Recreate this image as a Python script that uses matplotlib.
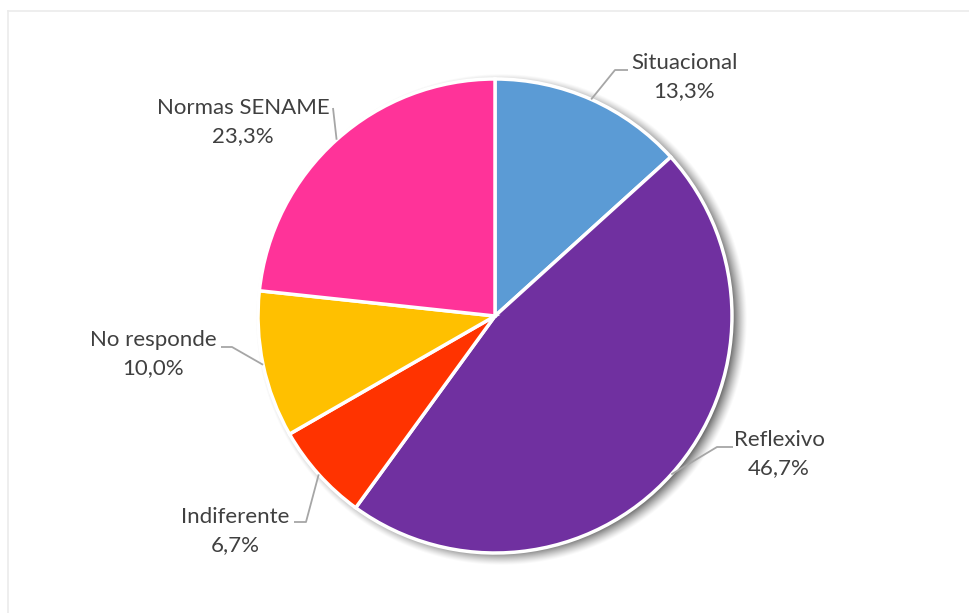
import numpy as np
import matplotlib
matplotlib.use("Agg")
import matplotlib.pyplot as plt
from matplotlib.lines import Line2D

# Datos del gráfico
categorias = ["Situacional", "Reflexivo", "Indiferente", "No responde", "Normas SENAME"]
porcentajes = [13.3, 46.7, 6.7, 10.0, 23.3]
colores = ["#5B9BD5", "#7030A0", "#FF3300", "#FFC000", "#FF3399"]

W, H = 970, 613
cx, cy, r = 495, H - 316, 237

fig = plt.figure(figsize=(W / 100, H / 100), dpi=100)
ax = fig.add_axes([0, 0, 1, 1])
ax.set_xlim(0, W)
ax.set_ylim(0, H)
ax.set_aspect("equal")
ax.axis("off")

# Marco claro del área del gráfico
ax.add_line(Line2D([8.5, W], [H - 10.5, H - 10.5], color="#EBEBEB", lw=1.2))
ax.add_line(Line2D([8.5, 8.5], [0, H - 10.5], color="#EBEBEB", lw=1.2))

# Sombra difusa detrás de la torta
yy, xx = np.mgrid[0:H, 0:W]
d = np.hypot(xx - (cx + 6), (H - yy) - (cy - 3))
sombra = np.clip((r + 9 - d) / 16, 0, 1) ** 1.3 * 0.65
img = np.zeros((H, W, 4))
img[..., 3] = sombra
ax.imshow(img, extent=(0, W, 0, H), origin="upper", zorder=1)

wedges, _ = ax.pie(porcentajes, colors=colores, startangle=90, counterclock=False,
                   center=(cx, cy), radius=r, frame=True,
                   wedgeprops=dict(edgecolor="white", linewidth=2.5))
for w in wedges:
    w.set_zorder(2)
ax.set_xlim(0, W)
ax.set_ylim(0, H)
ax.axis("off")

# Posición de cada etiqueta (centro del texto) y codo de la línea guía
etiquetas = {
    "Situacional": ((684, 77), (615, 70), (628, 70)),
    "Reflexivo": ((779, 454), (717, 447), (733, 447)),
    "Indiferente": ((235, 531), (306, 522), (294, 522)),
    "No responde": ((153, 354), (232, 347), (221, 347)),
    "Normas SENAME": ((243, 122), (333, 108), (333, 108)),
}

for w, nombre, valor in zip(wedges, categorias, porcentajes):
    ang = np.deg2rad((w.theta1 + w.theta2) / 2)
    x0 = cx + r * np.cos(ang)
    y0 = cy + r * np.sin(ang)
    (tx, ty), (ex, ey), (hx, hy) = etiquetas[nombre]
    ax.plot([x0, ex, hx], [y0, H - ey, H - hy], color="#A6A6A6", lw=1.3, zorder=3,
            solid_capstyle="butt")
    texto = f"{nombre}\n{valor:.1f}%".replace(".", ",")
    ax.text(tx, H - ty, texto, ha="center", va="center", fontsize=16,
            family="Lato", color="#404040", linespacing=1.45, zorder=4)

fig.savefig("out.png", dpi=100)
